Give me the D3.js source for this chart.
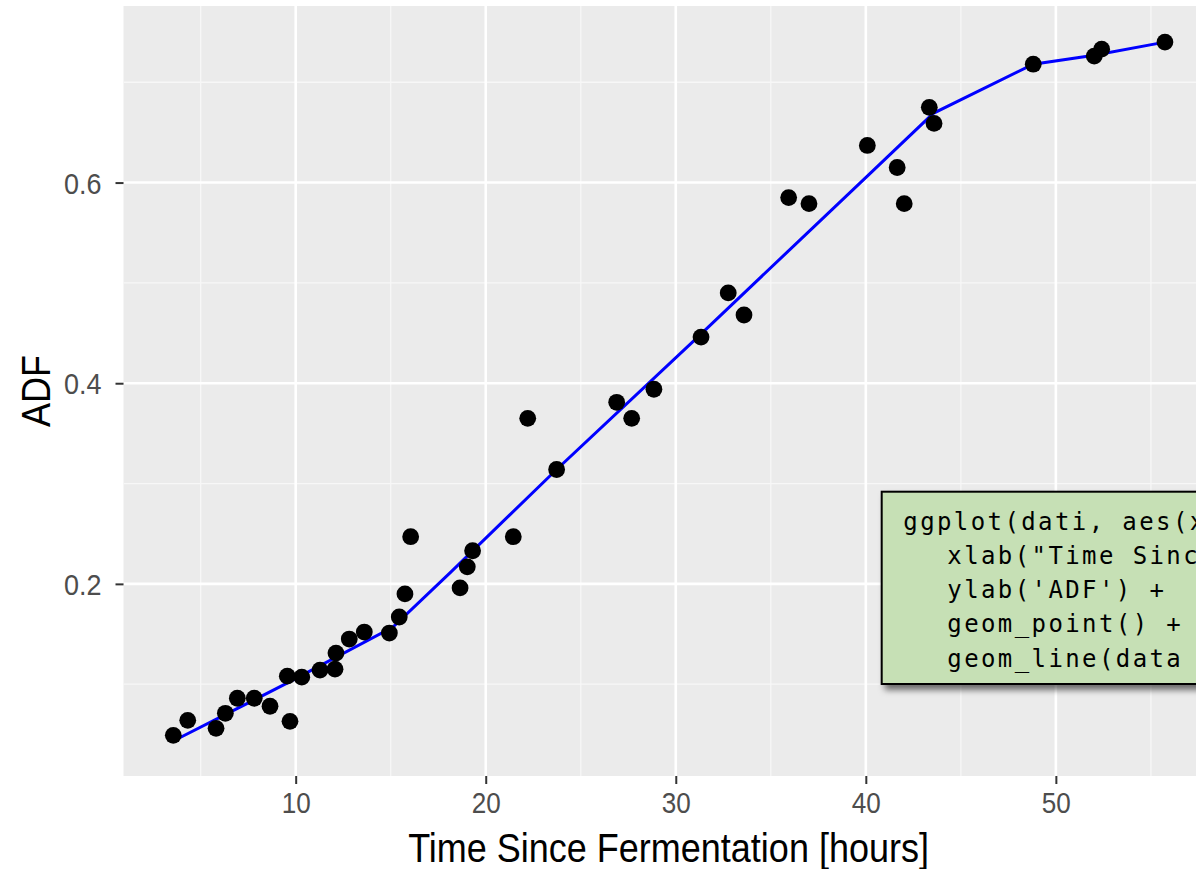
<!DOCTYPE html>
<html><head><meta charset="utf-8">
<script src="https://cdn.jsdelivr.net/npm/d3@7"></script>
<style>html,body{margin:0;padding:0;background:#fff;} svg{display:block;}</style>
</head><body>
<svg id="chart" width="1196" height="869"></svg>
<script>
// ---- data ----
const timeHours = [3.56,4.32,5.81,6.30,6.93,7.82,8.65,9.56,9.70,10.32,11.28,12.07,12.12,12.82,13.61,14.93,15.45,15.75,16.05,18.65,19.03,19.31,21.45,22.21,23.73,26.89,27.68,28.85,31.33,32.76,33.59,35.94,37.01,40.08,41.65,42.02,43.34,43.59,48.81,52.02,52.41,55.74];
const adf       = [0.049,0.064,0.056,0.071,0.086,0.086,0.078,0.108,0.063,0.107,0.114,0.115,0.131,0.145,0.152,0.151,0.167,0.190,0.247,0.196,0.217,0.233,0.247,0.365,0.314,0.381,0.365,0.394,0.446,0.490,0.468,0.585,0.579,0.637,0.615,0.579,0.675,0.659,0.718,0.726,0.733,0.740];
const fitTime = [3.56,9.70,15.12,18.12,23.73,31.10,40.05,43.55,48.81,52.02,55.74];
const fitAdf  = [0.0434,0.1025,0.157,0.211,0.314,0.445,0.606,0.669,0.718,0.727,0.740];
const xMajorTicks = [10,20,30,40,50];
const xMinorTicks = [5,15,25,35,45,55];
const yMajorTicks = [0.2,0.4,0.6];
const yMinorTicks = [0.1,0.3,0.5,0.7];
const xTitle = "Time Since Fermentation [hours]";
const yTitle = "ADF";
const codeLines = [
  "ggplot(dati, aes(x=Time, y=ADF)) +",
  "xlab(\"Time Since Fermentation [hours]\") +",
  "ylab('ADF') +",
  "geom_point() +",
  "geom_line(data = pred, colour = \"blue\")"
];

// ---- layout ----
const svg = d3.select("#chart");
const panel = {left:123.5, right:1213.6, top:6, bottom:776};
const x = d3.scaleLinear().domain([0.94, 58.3]).range([panel.left, panel.right]);
const y = d3.scaleLinear().domain([0.0085, 0.776]).range([panel.bottom, panel.top]);
const FONT = "'Liberation Sans', Arial, sans-serif";
const CONDENSE = 0.9;

const defs = svg.append("defs");
defs.append("clipPath").attr("id","pclip").append("rect")
  .attr("x",panel.left).attr("y",panel.top)
  .attr("width",panel.right-panel.left).attr("height",panel.bottom-panel.top);
const sh = defs.append("filter").attr("id","shadow").attr("x","-10%").attr("y","-10%").attr("width","130%").attr("height","140%");
sh.append("feDropShadow").attr("dx",4).attr("dy",5).attr("stdDeviation",3)
  .attr("flood-color","#000").attr("flood-opacity",0.55);

// panel background
svg.append("rect").attr("x",panel.left).attr("y",panel.top)
  .attr("width",panel.right-panel.left).attr("height",panel.bottom-panel.top)
  .attr("fill","#ebebeb");

const grid = svg.append("g").attr("clip-path","url(#pclip)");
grid.selectAll(".xmin").data(xMinorTicks).join("line")
  .attr("x1",d=>x(d)).attr("x2",d=>x(d)).attr("y1",panel.top).attr("y2",panel.bottom)
  .attr("stroke","#f7f7f7").attr("stroke-width",1.3);
grid.selectAll(".ymin").data(yMinorTicks).join("line")
  .attr("y1",d=>y(d)).attr("y2",d=>y(d)).attr("x1",panel.left).attr("x2",panel.right)
  .attr("stroke","#f7f7f7").attr("stroke-width",1.3);
grid.selectAll(".xmaj").data(xMajorTicks).join("line")
  .attr("x1",d=>x(d)).attr("x2",d=>x(d)).attr("y1",panel.top).attr("y2",panel.bottom)
  .attr("stroke","#ffffff").attr("stroke-width",2.6);
grid.selectAll(".ymaj").data(yMajorTicks).join("line")
  .attr("y1",d=>y(d)).attr("y2",d=>y(d)).attr("x1",panel.left).attr("x2",panel.right)
  .attr("stroke","#ffffff").attr("stroke-width",2.6);

// axes
const xAxis = d3.axisBottom(x).tickValues(xMajorTicks).tickSize(8).tickPadding(4).tickFormat(d3.format("d"));
const gx = svg.append("g").attr("transform",`translate(0,${panel.bottom})`).call(xAxis);
gx.select(".domain").remove();
gx.selectAll(".tick line").attr("stroke","#333").attr("stroke-width",2);
gx.selectAll(".tick text").attr("fill","#4d4d4d").attr("font-family",FONT).attr("font-size",29)
  .attr("y",0).attr("dy",0)
  .attr("transform",`translate(0,37) scale(${CONDENSE},1)`);

const yAxis = d3.axisLeft(y).tickValues(yMajorTicks).tickSize(8).tickPadding(0).tickFormat(d3.format(".1f"));
const gy = svg.append("g").attr("transform",`translate(${panel.left},0)`).call(yAxis);
gy.select(".domain").remove();
gy.selectAll(".tick line").attr("stroke","#333").attr("stroke-width",2);
gy.selectAll(".tick text").attr("fill","#4d4d4d").attr("font-family",FONT).attr("font-size",29)
  .attr("x",0).attr("dy",0)
  .attr("transform",`translate(-22,10.5) scale(0.93,1)`);

// blue fitted line
const line = d3.line().x(d=>x(d[0])).y(d=>y(d[1]));
svg.append("path").datum(d3.zip(fitTime, fitAdf)).attr("d",line)
  .attr("fill","none").attr("stroke","#0000ff").attr("stroke-width",3)
  .attr("clip-path","url(#pclip)");

// points
svg.append("g").selectAll("circle").data(d3.zip(timeHours, adf)).join("circle")
  .attr("cx",d=>x(d[0])).attr("cy",d=>y(d[1])).attr("r",8.4).attr("fill","#000");

// axis titles
svg.append("text").attr("transform",`translate(${(panel.left+panel.right)/2},862) scale(${CONDENSE},1)`)
  .attr("text-anchor","middle").attr("font-family",FONT).attr("font-size",40).attr("fill","#000").text(xTitle);
svg.append("text").attr("transform",`translate(50,${(panel.top+panel.bottom)/2}) rotate(-90) scale(${CONDENSE},1)`)
  .attr("text-anchor","middle").attr("font-family",FONT).attr("font-size",40).attr("fill","#000").text(yTitle);

// code annotation box
const box = {x:881.7, y:491.7, w:400, h:192.3};
svg.append("rect").attr("x",box.x).attr("y",box.y).attr("width",box.w).attr("height",box.h)
  .attr("fill","#c6e0b5").attr("stroke","#000").attr("stroke-width",2).attr("filter","url(#shadow)");
svg.append("g").selectAll("text").data(codeLines).join("text")
  .attr("x",(d,i)=> box.x + 21.6 + (i>0 ? 44 : 0))
  .attr("y",(d,i)=> box.y + 37.8 + i*34.3)
  .attr("font-family","'DejaVu Sans Mono', monospace").attr("font-size",24)
  .attr("letter-spacing",2.4).attr("fill","#000").text(d=>d);
</script>
</body></html>
